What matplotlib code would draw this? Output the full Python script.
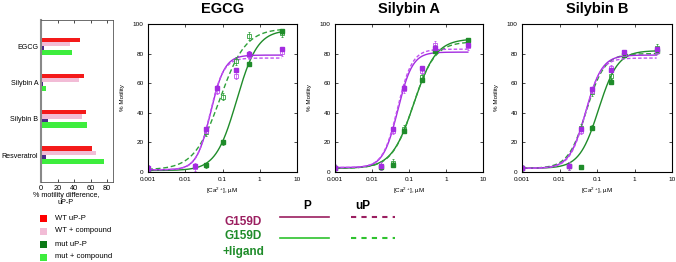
import numpy as np
import matplotlib
matplotlib.use("Agg")
import matplotlib.pyplot as plt
from matplotlib.patches import Rectangle

plt.rcParams['font.family'] = ['Liberation Sans', 'DejaVu Sans']
plt.rcParams['mathtext.default'] = 'regular'

W, H = 676, 262

# ---------------- bar panel data ----------------
compounds = ["EGCG", "Silybin A", "Silybin B", "Resveratrol"]
wt_upp = [47, 52, 54, 62]
wt_comp = [35, 46, 50, 66]
mut_upp = [4, 3, 8, 6]
mut_comp = [38, 6, 55, 76]
bar_series_names = ["WT uP-P", "WT + compound", "mut uP-P", "mut + compound"]

# ---------------- dose-response data ----------------
panels = ["EGCG", "Silybin A", "Silybin B"]
x_purple = [0.001, 0.018, 0.037, 0.072, 0.23, 0.52, 3.9]
x_green = [0.001, 0.018, 0.037, 0.072, 0.23, 0.52, 3.9]
x_green_egcg = [0.001, 0.037, 0.104, 0.23, 0.52, 3.9]

# EGCG
egcg_pP = [2.5, 3.8, 29, 57, 69, 80, 83]
egcg_puP = [2.0, 3.5, 28, 55, 65, 79, 81]
egcg_gP = [1.0, 4.5, 20, np.nan, 73, 95]
egcg_guP = [2.0, 27, 51, 75, 92, 94]
# Silybin A
sila_pP = [3, 4, 29, 57, 70, 84, 86]
sila_puP = [3, 4, 28, 56, 68, 86, 85]
sila_gP = [2.5, 3.5, 5, 28, 62, 82, 89]
sila_guP = [2.5, 4, 6, 29, 64, 83, 88]
# Silybin B
silb_pP = [2.5, 4, 29, 56, 69, 81, 83]
silb_puP = [2.5, 4, 28, 55, 70, 80, 82]
silb_gP = [2.5, 4, 3.5, 30, 61, 79, 82]
silb_guP = [2.5, 4, 30, 54, 65, 80, 84]

# Hill fit parameters: bottom, top, EC50, n
egcg_fits = {"pP": (1.5, 79, 0.048, 2.3), "puP": (1.5, 77, 0.046, 2.4),
             "gP": (1.0, 96, 0.24, 1.55), "guP": (1.5, 97, 0.085, 1.25)}
sila_fits = {"pP": (3, 81, 0.050, 2.2), "puP": (3, 83, 0.049, 2.2),
             "gP": (2.5, 90, 0.135, 1.45), "guP": (2.5, 88, 0.13, 1.5)}
silb_fits = {"pP": (2.5, 79, 0.050, 2.0), "puP": (2.5, 77, 0.049, 2.1),
             "gP": (2.5, 82, 0.11, 1.7), "guP": (2.5, 80, 0.052, 1.8)}

PURPLE = "#a32be0"
PURPLE_D = "#c050f0"
GREEN = "#1f8c2a"
GREEN_D = "#2fa03a"

fig = plt.figure(figsize=(W / 100, H / 100), dpi=100)


def px_axes(x0, y0, x1, y1):
    return fig.add_axes([x0 / W, 1 - y1 / H, (x1 - x0) / W, (y1 - y0) / H])


# ---------------- bar panel ----------------
axb = px_axes(41, 20, 113, 182)
pos = np.arange(len(compounds))
hgt = 0.115
cols = ["#f41a1a", "#f2bcd6", "#4a2a8a", "#3ded3d"]
offs = [-0.18, -0.065, 0.05, 0.17]
for vals, c, o in zip([wt_upp, wt_comp, mut_upp, mut_comp], cols, offs):
    axb.barh(pos + o, vals, height=hgt if c != "#3ded3d" else 0.14, color=c, linewidth=0)
axb.set_ylim(3.74, -0.72)
axb.set_xlim(0, 87)
axb.set_yticks(pos)
axb.set_yticklabels(compounds, fontsize=5.1)
axb.set_xticks([0, 20, 40, 60, 80])
axb.tick_params(axis='x', labelsize=5.3, direction='in', length=2, top=True, pad=2, width=0.5)
axb.tick_params(axis='y', length=0, pad=2)
for s in axb.spines.values():
    s.set_linewidth(0.6)
    s.set_color("#555555")
axb.spines['left'].set_linewidth(1.5)
axb.spines['left'].set_color("#888888")
fig.text(66 / W, 1 - 199 / H, "% motility difference,\nuP-P", fontsize=5.2,
         ha='center', va='center', linespacing=1.0)

# legend squares
leg_cols = ["#ff0000", "#f2bcd6", "#0b7a16", "#3ded3d"]
leg_y = [218, 231, 244, 257]
for c, yy, name in zip(leg_cols, leg_y, bar_series_names):
    fig.patches.append(Rectangle((40 / W, 1 - (yy + 3.5) / H), 7 / W, 7 / H,
                                 transform=fig.transFigure, color=c, linewidth=0))
    fig.text(55 / W, 1 - yy / H, name, fontsize=5.5, va='center', ha='left')


# ---------------- dose-response panels ----------------
def hill(x, p):
    b, t, ec, n = p
    return b + (t - b) * x ** n / (ec ** n + x ** n)


panel_px = [(148, 297), (335, 483), (522, 672)]
xc = np.logspace(-3, np.log10(3.9), 300)

datasets = [
    (egcg_pP, egcg_puP, egcg_gP, egcg_guP, egcg_fits, x_green_egcg),
    (sila_pP, sila_puP, sila_gP, sila_guP, sila_fits, x_green),
    (silb_pP, silb_puP, silb_gP, silb_guP, silb_fits, x_green),
]

for (x0, x1), title, (pP, puP, gP, guP, fits, xg) in zip(panel_px, panels, datasets):
    ax = px_axes(x0, 24, x1, 172)
    ax.set_xscale('log')
    ax.set_xlim(0.001, 10)
    ax.set_ylim(0, 100)
    # fits
    ax.plot(xc, hill(xc, fits["gP"]), color=GREEN, lw=1.0)
    ax.plot(xc, hill(xc, fits["guP"]), color=GREEN_D, lw=1.0, ls=(0, (3.5, 2)))
    ax.plot(xc, hill(xc, fits["pP"]), color=PURPLE, lw=1.0)
    ax.plot(xc, hill(xc, fits["puP"]), color=PURPLE_D, lw=1.0, ls=(0, (2.5, 1.5)))
    # points
    ax.errorbar(xg, guP, yerr=2.5, fmt='s', ms=2.2, color=GREEN_D, mfc='none',
                mew=0.6, elinewidth=0.5, capsize=1, capthick=0.5)
    ax.errorbar(xg, gP, yerr=1.5, fmt='s', ms=2.2,
                color=GREEN, elinewidth=0.5, capsize=1, capthick=0.5)
    ax.errorbar(x_purple, puP, yerr=2.5, fmt='s', ms=2.2, color=PURPLE_D, mfc='none',
                mew=0.6, elinewidth=0.5, capsize=1, capthick=0.5)
    ax.errorbar(x_purple, pP, yerr=1.5, fmt='s', ms=2.2, color=PURPLE,
                elinewidth=0.5, capsize=1, capthick=0.5)
    ax.set_xticks([0.001, 0.01, 0.1, 1, 10])
    ax.set_xticklabels(["0.001", "0.01", "0.1", "1", "10"])
    ax.set_yticks([0, 20, 40, 60, 80, 100])
    ax.minorticks_off()
    ax.tick_params(labelsize=4.6, direction='in', length=2.5, width=0.5,
                   top=True, right=True)
    ax.tick_params(axis='x', pad=3.5)
    ax.tick_params(axis='y', pad=3)
    for s in ax.spines.values():
        s.set_linewidth(0.8)
    ax.set_ylabel("% Motility", fontsize=4.5, labelpad=6)
    ax.set_xlabel("[Ca$^{2+}$], µM", fontsize=4.5, labelpad=3)
    fig.text((x0 + x1) / 2 / W, 1 - 9 / H, title, fontsize=10.5, fontweight='bold',
             ha='center', va='center')

# ---------------- bottom legend ----------------
MAROON = "#9b1f60"
LGREEN = "#2ec22e"
fig.text(307 / W, 1 - 206 / H, "P", fontsize=8.5, fontweight='bold', ha='center', va='center')
fig.text(363 / W, 1 - 206 / H, "uP", fontsize=8.5, fontweight='bold', ha='center', va='center')
fig.text(243 / W, 1 - 222 / H, "G159D", fontsize=8.5, fontweight='bold', color=MAROON,
         ha='center', va='center')
fig.text(243 / W, 1 - 236 / H, "G159D", fontsize=8.5, fontweight='bold', color=GREEN,
         ha='center', va='center')
fig.text(243 / W, 1 - 252 / H, "+ligand", fontsize=8.5, fontweight='bold', color=GREEN,
         ha='center', va='center')
fig.add_artist(plt.Line2D([280 / W, 329 / W], [1 - 217 / H] * 2, color=MAROON, lw=1.2,
                          transform=fig.transFigure))
fig.add_artist(plt.Line2D([351 / W, 395 / W], [1 - 217 / H] * 2, color=MAROON, lw=1.5,
                          ls=(0, (2.5, 2.5)), transform=fig.transFigure))
fig.add_artist(plt.Line2D([280 / W, 329 / W], [1 - 238 / H] * 2, color=LGREEN, lw=1.2,
                          transform=fig.transFigure))
fig.add_artist(plt.Line2D([351 / W, 395 / W], [1 - 238 / H] * 2, color=LGREEN, lw=1.5,
                          ls=(0, (2.5, 2.5)), transform=fig.transFigure))

fig.savefig("out.png", dpi=100)
